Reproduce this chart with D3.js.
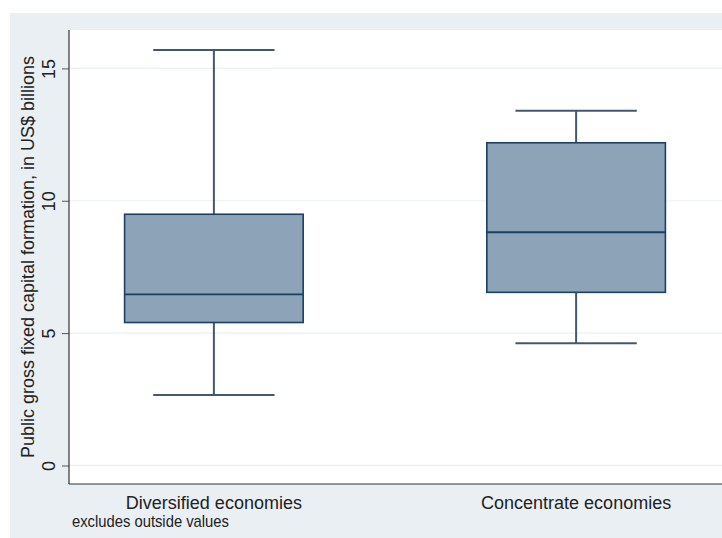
<!DOCTYPE html>
<html>
<head>
<meta charset="utf-8">
<script src="https://cdn.jsdelivr.net/npm/d3@7/dist/d3.min.js"></script>
<style>
  html, body { margin: 0; padding: 0; background: #ffffff; }
  svg { display: block; }
  text { font-family: "Liberation Sans", Arial, sans-serif; fill: #222; }
</style>
</head>
<body>
<svg id="chart" width="722" height="538"></svg>
<script>
// Groups and their box-plot summaries (US$ billions)
const categories = ["Diversified economies", "Concentrate economies"];
const whiskerLow  = [2.66, 4.62];
const quartile1   = [5.40, 6.54];
const medians     = [6.46, 8.81];
const quartile3   = [9.49, 12.19];
const whiskerHigh = [15.69, 13.40];
const yTicks = [0, 5, 10, 15];

const yTitle = "Public gross fixed capital formation, in US$ billions";
const note = "excludes outside values";

const W = 722, H = 538;
const outer = { left: 10, top: 13 };
const plot = { left: 69, right: 722, top: 30, bottom: 484 };

const svg = d3.select("#chart");

// Graph region background
svg.append("rect")
  .attr("x", outer.left).attr("y", outer.top)
  .attr("width", W - outer.left).attr("height", H - outer.top)
  .attr("fill", "#e9eff2");

// Plot region
svg.append("rect")
  .attr("x", plot.left).attr("y", plot.top)
  .attr("width", plot.right - plot.left).attr("height", plot.bottom - plot.top)
  .attr("fill", "#ffffff");

const y = d3.scaleLinear().domain([-0.7, 16.45]).range([plot.bottom, plot.top]);
const x = d3.scalePoint().domain(categories).range([plot.left, plot.right - 1]).padding(0.4);
const boxW = x.step() * 0.493;
const capW = x.step() * 0.335;

// Horizontal grid
svg.append("g").selectAll("line").data(yTicks).join("line")
  .attr("x1", plot.left).attr("x2", plot.right)
  .attr("y1", d => y(d)).attr("y2", d => y(d))
  .attr("stroke", "#eaf1f3").attr("stroke-width", 1.2);

// Y axis: ticks with vertical labels
const yAxis = svg.append("g")
  .attr("transform", `translate(${plot.left},0)`)
  .call(d3.axisLeft(y).tickValues(yTicks).tickSize(7).tickPadding(0).tickFormat(d3.format("d")));
yAxis.select(".domain").remove();
yAxis.selectAll(".tick line").attr("stroke", "#555").attr("stroke-width", 1);
yAxis.selectAll(".tick text")
  .attr("transform", "translate(-14,0) rotate(-90)")
  .attr("x", 0).attr("y", 0).attr("dy", 0)
  .attr("text-anchor", "middle")
  .style("font-size", "18px")
  .style("font-family", "'Liberation Sans', Arial, sans-serif")
  .attr("fill", "#222");

// Axis lines (left and bottom)
svg.append("line")
  .attr("x1", plot.left).attr("x2", plot.left)
  .attr("y1", plot.top).attr("y2", plot.bottom)
  .attr("stroke", "#333").attr("stroke-width", 1.2);
svg.append("line")
  .attr("x1", plot.left).attr("x2", plot.right)
  .attr("y1", plot.bottom).attr("y2", plot.bottom)
  .attr("stroke", "#333").attr("stroke-width", 1.2);

// Y axis title
svg.append("text")
  .attr("transform", `translate(34,${(plot.top + plot.bottom) / 2}) rotate(-90)`)
  .attr("text-anchor", "middle")
  .style("font-size", "18px")
  .text(yTitle);

// Boxes, whiskers and medians
const lineCol = "#43586f";
const boxStroke = "#1d3f62";
const g = svg.append("g");
categories.forEach((c, i) => {
  const cx = x(c);
  g.append("line").attr("x1", cx).attr("x2", cx)
    .attr("y1", y(quartile3[i])).attr("y2", y(whiskerHigh[i]))
    .attr("stroke", lineCol).attr("stroke-width", 2);
  g.append("line").attr("x1", cx).attr("x2", cx)
    .attr("y1", y(quartile1[i])).attr("y2", y(whiskerLow[i]))
    .attr("stroke", lineCol).attr("stroke-width", 2);
  [whiskerHigh[i], whiskerLow[i]].forEach(v => {
    g.append("line")
      .attr("x1", cx - capW / 2).attr("x2", cx + capW / 2)
      .attr("y1", y(v)).attr("y2", y(v))
      .attr("stroke", lineCol).attr("stroke-width", 2);
  });
  g.append("rect")
    .attr("x", cx - boxW / 2).attr("width", boxW)
    .attr("y", y(quartile3[i])).attr("height", y(quartile1[i]) - y(quartile3[i]))
    .attr("fill", "#8da3b8").attr("stroke", boxStroke).attr("stroke-width", 1.6);
  g.append("line")
    .attr("x1", cx - boxW / 2).attr("x2", cx + boxW / 2)
    .attr("y1", y(medians[i])).attr("y2", y(medians[i]))
    .attr("stroke", boxStroke).attr("stroke-width", 1.8);
});

// Category labels
svg.append("g").selectAll("text").data(categories).join("text")
  .attr("x", d => x(d)).attr("y", 509)
  .attr("text-anchor", "middle")
  .style("font-size", "18px")
  .text(d => d);

// Note (condensed)
svg.append("text")
  .attr("transform", "translate(72,527) scale(0.87,1)")
  .style("font-size", "17px")
  .text(note);
</script>
</body>
</html>
